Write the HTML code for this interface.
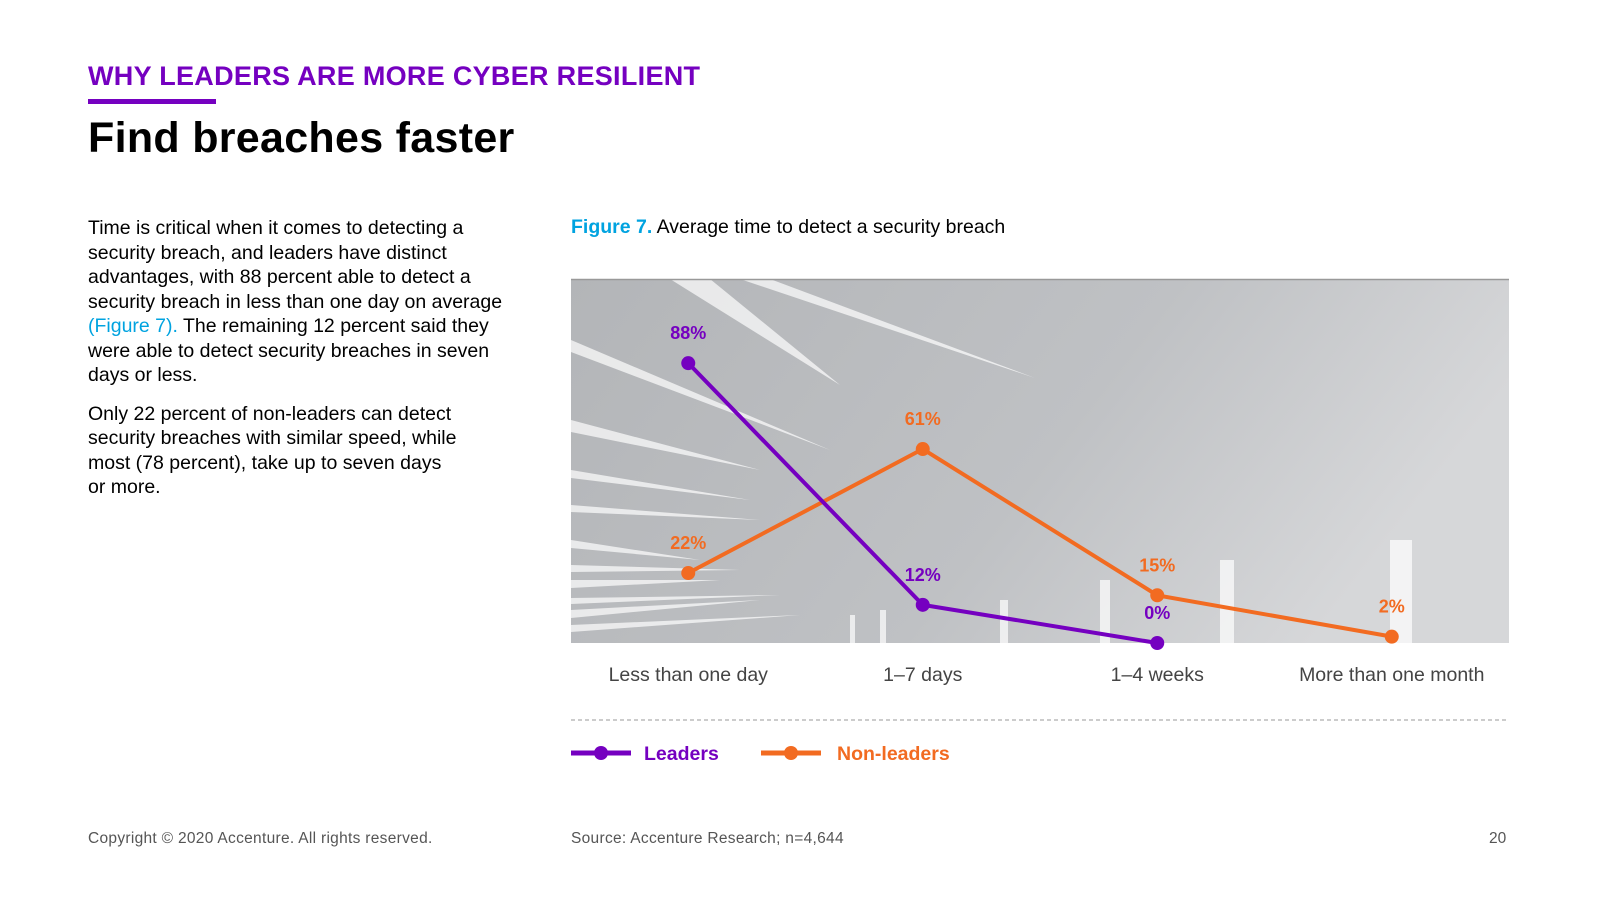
<!DOCTYPE html>
<html><head><meta charset="utf-8"><style>
body{margin:0;width:1600px;height:900px;background:#fff;font-family:"Liberation Sans",sans-serif;position:relative;overflow:hidden;color:#000}
.abs{position:absolute}
.nw{white-space:nowrap}
</style></head><body>
<div class="abs nw" style="left:88px;top:61px;font-size:27px;font-weight:bold;color:#7500c0;letter-spacing:0.3px">WHY LEADERS ARE MORE CYBER RESILIENT</div>
<div class="abs" style="left:88px;top:99px;width:128px;height:5px;background:#7500c0"></div>
<div class="abs nw" style="left:88px;top:114px;font-size:43px;font-weight:bold;letter-spacing:0.3px">Find breaches faster</div>
<div class="abs nw" style="left:88px;top:216px;font-size:19.5px;line-height:24.5px">
<p style="margin:0 0 14px">Time is critical when it comes to detecting a<br>security breach, and leaders have distinct<br>advantages, with 88 percent able to detect a<br>security breach in less than one day on average<br><span style="color:#00a3e0">(Figure 7).</span> The remaining 12 percent said they<br>were able to detect security breaches in seven<br>days or less.</p>
<p style="margin:0">Only 22 percent of non-leaders can detect<br>security breaches with similar speed, while<br>most (78 percent), take up to seven days<br>or more.</p></div>
<div class="abs nw" style="left:571px;top:216px;font-size:19.5px"><b style="color:#00a3e0">Figure 7.</b> Average time to detect a security breach</div>
<svg class="abs" style="left:0;top:0" width="1600" height="900">
<defs><linearGradient id="bg" x1="0" y1="0" x2="1" y2="0.3"><stop offset="0" stop-color="#b3b5b8"/><stop offset="0.6" stop-color="#bfc1c4"/><stop offset="1" stop-color="#d6d7d9"/></linearGradient></defs>
<rect x="571" y="279" width="938" height="364" fill="url(#bg)"/>
<g fill="#fff" opacity="0.7">
<polygon points="670,279 710,279 840,385"/>
<polygon points="740,279 770,279 1035,378"/>
<polygon points="571,340 571,352 830,450"/>
<polygon points="571,420 571,432 760,470"/>
<polygon points="571,470 571,478 750,500"/>
<polygon points="571,505 571,512 760,520"/>
<polygon points="571,540 571,548 700,560"/>
<polygon points="571,565 571,572 740,570"/>
<polygon points="571,580 571,588 720,580"/>
<polygon points="571,598 571,604 780,595"/>
<polygon points="571,610 571,618 760,600"/>
<polygon points="571,625 571,632 800,615"/>
<rect x="1390" y="540" width="22" height="103"/>
<rect x="1220" y="560" width="14" height="83"/>
<rect x="1100" y="580" width="10" height="63"/>
<rect x="1000" y="600" width="8" height="43"/>
<rect x="880" y="610" width="6" height="33"/>
<rect x="850" y="615" width="5" height="28"/>
</g>
<line x1="571" y1="279.5" x2="1509" y2="279.5" stroke="#999" stroke-width="1.5"/>
<line x1="571" y1="720" x2="1509" y2="720" stroke="#999" stroke-dasharray="4,3"/>
<g id="plot"></g>
<g>
<line x1="571" y1="753" x2="631" y2="753" stroke="#7500c0" stroke-width="5"/><circle cx="601" cy="753" r="7" fill="#7500c0"/>
<text x="644" y="760" font-size="19.5" font-weight="bold" fill="#7500c0" font-family="Liberation Sans">Leaders</text>
<line x1="761" y1="753" x2="821" y2="753" stroke="#f26b21" stroke-width="5"/><circle cx="791" cy="753" r="7" fill="#f26b21"/>
<text x="837" y="760" font-size="19.5" font-weight="bold" fill="#f26b21" font-family="Liberation Sans">Non-leaders</text>
</g>
</svg>
<div class="abs nw" style="left:88px;top:830px;font-size:15.5px;color:#555;letter-spacing:0.3px">Copyright © 2020 Accenture. All rights reserved.</div>
<div class="abs nw" style="left:571px;top:830px;font-size:15.5px;color:#555;letter-spacing:0.3px">Source: Accenture Research; n=4,644</div>
<div class="abs nw" style="left:1489px;top:830px;font-size:15.5px;color:#555">20</div>
<script>
const categories=["Less than one day","1–7 days","1–4 weeks","More than one month"];
const leaders=[88,12,0];
const nonLeaders=[22,61,15,2];
const ns="http://www.w3.org/2000/svg";
const X0=571,BW=234.5,Y0=643,YS=3.18;
function x(i){return X0+BW*i+BW/2;}
function y(v){return Y0-v*YS;}
const g=document.getElementById('plot');
categories.forEach((c,i)=>{
 const t=document.createElementNS(ns,'text');
 
 
 t.setAttribute('x',x(i));t.setAttribute('y',681);t.setAttribute('text-anchor','middle');
 t.setAttribute('font-size','19.5');t.setAttribute('fill','#444');t.setAttribute('font-family','Liberation Sans');
 t.textContent=c;g.appendChild(t);
});
function series(vals,color,name){
 const p=document.createElementNS(ns,'polyline');
 
 
 p.setAttribute('points',vals.map((v,i)=>x(i)+','+y(v)).join(' '));
 p.setAttribute('fill','none');p.setAttribute('stroke',color);p.setAttribute('stroke-width','4');
 g.appendChild(p);
 vals.forEach((v,i)=>{
  const c=document.createElementNS(ns,'circle');
  
  
  c.setAttribute('cx',x(i));c.setAttribute('cy',y(v));c.setAttribute('r','7');c.setAttribute('fill',color);
  g.appendChild(c);
  const t=document.createElementNS(ns,'text');
  
  
  t.setAttribute('x',x(i));t.setAttribute('y',y(v)-24);t.setAttribute('text-anchor','middle');
  t.setAttribute('font-size','18');t.setAttribute('font-weight','bold');t.setAttribute('fill',color);t.setAttribute('font-family','Liberation Sans');
  t.textContent=v+'%';g.appendChild(t);
 });
}
series(nonLeaders,'#f26b21','non-leaders');
series(leaders,'#7500c0','leaders');
</script>
</body></html>
